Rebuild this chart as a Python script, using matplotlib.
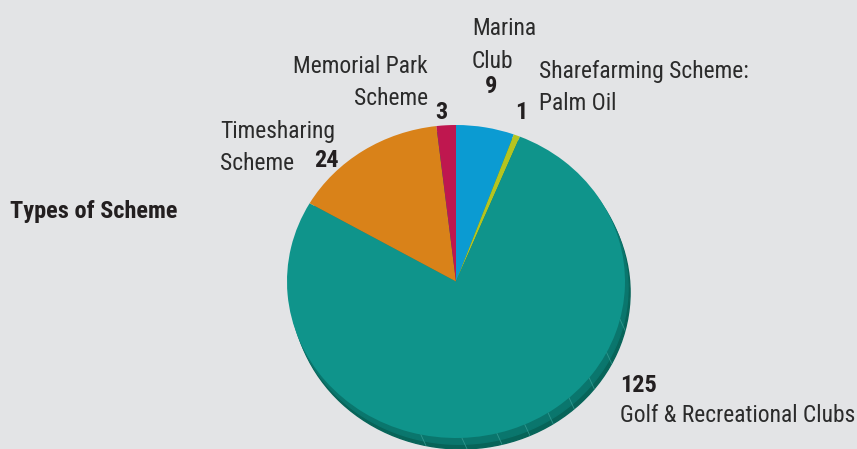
import numpy as np
import matplotlib.pyplot as plt
from matplotlib.patches import Ellipse

# scheme counts, clockwise from 12 o'clock
schemes = ['Marina Club', 'Sharefarming Scheme: Palm Oil', 'Golf & Recreational Clubs',
           'Timesharing Scheme', 'Memorial Park Scheme']
counts = [9, 1, 125, 24, 3]
colors = ['#0b9bd2', '#b5c41f', '#0f948b', '#d98219', '#bf174f']

W, H = 857, 449
BG = '#e3e4e6'
FONT = ['Roboto Condensed', 'DejaVu Sans']

fig = plt.figure(figsize=(W / 100, H / 100), dpi=100, facecolor=BG)


def px_axes(x0, y0, x1, y1):
    # axes placed by pixel box (top-left origin)
    return fig.add_axes([x0 / W, 1 - y1 / H, (x1 - x0) / W, (y1 - y0) / H])


# pie squashed into an ellipse to look tilted
ax = px_axes(287, 125, 625, 438)
ax.set_facecolor('none')

# rim / thickness below the top face
ax.add_patch(Ellipse((0.03, -0.07), 2, 2, color='#076459', zorder=0, clip_on=False))
ax.add_patch(Ellipse((0.018, -0.04), 2, 2, color='#0a766d', zorder=0, clip_on=False))
for ang in [-14, -27, -38, -48, -57, -66, -76, -88, -102]:
    a = np.deg2rad(ang)
    x, y = np.cos(a), np.sin(a)
    ax.plot([x, x + 0.03], [y, y - 0.07], color='#3fa69d', lw=0.6, alpha=0.7,
            zorder=1, clip_on=False)

ax.pie(counts, colors=colors, startangle=90, counterclock=False,
       radius=1, wedgeprops=dict(linewidth=0), center=(0, 0))
ax.set_aspect('auto')
ax.set_xlim(-1, 1)
ax.set_ylim(-1, 1)
ax.axis('off')


def label(x, y, s, bold=False, ha='left'):
    fig.text(x / W, 1 - y / H, s, ha=ha, va='baseline',
             fontsize=17.5 if bold else 16.9,
             family=FONT, weight='bold' if bold else 'normal',
             color='#231f20' if bold else '#2b2b2b')


label(10, 218, 'Types of Scheme', bold=True)

label(472, 35, 'Marina')
label(472, 68, 'Club')
label(491, 93, str(counts[0]), bold=True, ha='center')

label(539, 78, 'Sharefarming Scheme:')
label(539, 110, 'Palm Oil')
label(521, 119, str(counts[1]), bold=True, ha='center')

label(620, 392, str(counts[2]), bold=True)
label(620, 422, 'Golf & Recreational Clubs')

label(220, 138, 'Timesharing')
label(220, 170, 'Scheme')
label(339, 167, str(counts[3]), bold=True, ha='right')

label(428, 73, 'Memorial Park', ha='right')
label(428, 105, 'Scheme', ha='right')
label(441, 119, str(counts[4]), bold=True, ha='center')

fig.savefig('out.png', dpi=100, facecolor=BG)
